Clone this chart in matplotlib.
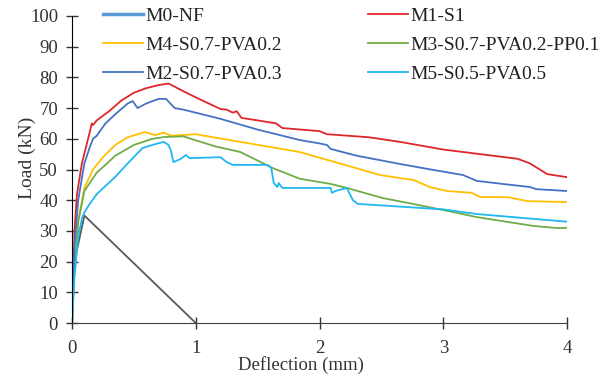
import matplotlib
matplotlib.use("Agg")
import matplotlib.pyplot as plt
from matplotlib.lines import Line2D

plt.rcParams['font.family'] = ['Liberation Serif', 'DejaVu Serif']

# Load-deflection curves (deflection in mm, load in kN)
m0_x = [0.0, 0.02, 0.1, 1.0]
m0_y = [0.0, 20.0, 35.0, 0.0]

m1_x = [0.0, 0.01, 0.02, 0.04, 0.08, 0.13, 0.16, 0.17, 0.2, 0.3, 0.4, 0.5, 0.6, 0.7, 0.78,
        0.9, 1.0, 1.2, 1.25, 1.3, 1.33, 1.37, 1.5, 1.65, 1.7, 2.0, 2.06, 2.4, 2.65, 3.0,
        3.2, 3.6, 3.7, 3.84, 4.0]
m1_y = [0.0, 15.0, 30.0, 42.0, 52.0, 60.0, 65.0, 64.5, 66.0, 69.0, 72.5, 75.0, 76.5, 77.5, 78.0,
        75.5, 73.5, 69.7, 69.5, 68.5, 69.0, 66.8, 66.0, 65.0, 63.5, 62.5, 61.5, 60.5, 59.0, 56.5,
        55.5, 53.5, 52.0, 48.5, 47.5]

m4_x = [0.0, 0.02, 0.05, 0.1, 0.17, 0.25, 0.35, 0.45, 0.59, 0.67, 0.74, 0.8, 1.0, 1.07,
        1.84, 2.49, 2.65, 2.76, 2.89, 3.03, 3.23, 3.3, 3.52, 3.68, 4.0]
m4_y = [0.0, 18.0, 33.0, 44.0, 50.0, 54.0, 58.0, 60.5, 62.2, 61.2, 62.0, 61.0, 61.5, 61.0,
        55.7, 48.2, 47.2, 46.6, 44.3, 43.0, 42.4, 41.0, 41.0, 39.7, 39.4]

m3_x = [0.0, 0.02, 0.05, 0.1, 0.2, 0.27, 0.35, 0.5, 0.65, 0.75, 0.9, 1.0, 1.16, 1.36,
        1.62, 1.84, 2.09, 2.22, 2.51, 2.73, 3.0, 3.27, 3.73, 3.93, 4.0]
m3_y = [0.0, 17.0, 33.0, 43.0, 49.0, 51.5, 54.5, 58.0, 60.0, 60.6, 60.8, 59.5, 57.5, 55.7,
        50.5, 47.0, 45.3, 44.0, 40.7, 39.0, 36.8, 34.5, 31.6, 30.9, 31.0]

m2_x = [0.0, 0.02, 0.05, 0.1, 0.15, 0.17, 0.2, 0.27, 0.35, 0.45, 0.49, 0.53, 0.6, 0.7, 0.76,
        0.83, 0.9, 1.0, 1.2, 1.5, 1.84, 2.0, 2.06, 2.09, 2.3, 2.65, 2.9, 3.16, 3.27, 3.5,
        3.7, 3.75, 4.0]
m2_y = [0.0, 25.0, 40.0, 52.0, 58.0, 60.0, 61.0, 65.0, 68.0, 71.5, 72.3, 70.0, 71.5, 73.0, 73.0,
        70.0, 69.5, 68.5, 66.5, 63.0, 59.6, 58.5, 58.0, 56.7, 54.5, 51.8, 50.0, 48.2, 46.3, 45.2,
        44.3, 43.6, 43.0]

m5_x = [0.0, 0.02, 0.05, 0.08, 0.1, 0.13, 0.2, 0.35, 0.45, 0.57, 0.65, 0.74, 0.78, 0.8,
        0.82, 0.88, 0.92, 0.95, 1.2, 1.25, 1.3, 1.58, 1.61, 1.63, 1.66, 1.67, 1.7, 2.09,
        2.1, 2.13, 2.22, 2.27, 2.31, 3.0, 3.27, 4.0]
m5_y = [0.0, 15.0, 28.0, 34.0, 36.0, 38.0, 42.0, 47.6, 52.0, 57.0, 58.0, 59.0, 58.0, 56.0,
        52.4, 53.5, 54.7, 53.7, 54.0, 52.4, 51.5, 51.5, 50.5, 45.6, 44.3, 45.6, 44.0, 44.0,
        42.4, 43.0, 44.0, 40.0, 38.8, 37.0, 35.5, 33.0]

labels = ["M0-NF", "M1-S1", "M4-S0.7-PVA0.2", "M3-S0.7-PVA0.2-PP0.1",
          "M2-S0.7-PVA0.3", "M5-S0.5-PVA0.5"]
colors = ["#5B9BD5", "#E0262B", "#FFC000", "#70AD47", "#4472C4", "#1FB8F0"]

x_ticks = [0, 1, 2, 3, 4]
y_ticks = list(range(0, 101, 10))

fig = plt.figure(figsize=(6.11, 3.76), dpi=100)
ax = fig.add_axes([72 / 611, 1 - 323 / 376, 495 / 611, 307 / 376])

ax.plot(m0_x, m0_y, color="#595959", lw=1.3)
ax.plot(m1_x, m1_y, color=colors[1], lw=1.3)
ax.plot(m4_x, m4_y, color=colors[2], lw=1.3)
ax.plot(m3_x, m3_y, color=colors[3], lw=1.3)
ax.plot(m2_x, m2_y, color=colors[4], lw=1.3)
ax.plot(m5_x, m5_y, color=colors[5], lw=1.3)

ax.set_xlim(0, 4)
ax.set_ylim(0, 100)
ax.set_xticks(x_ticks)
ax.set_yticks(y_ticks)
for s in ("top", "right"):
    ax.spines[s].set_visible(False)
ax.spines["left"].set_color("black")
ax.spines["bottom"].set_color("#404040")
ax.tick_params(direction="inout", length=8, width=1, labelsize=13.5, colors="#333333")
ax.tick_params(axis="x", pad=8)
ax.tick_params(axis="y", pad=6)
ax.set_xlabel("Deflection (mm)", fontsize=13.5, color="#333333")
ax.set_ylabel("Load (kN)", fontsize=14, color="#333333")
ax.xaxis.set_label_coords(0.462, -0.108)
ax.yaxis.set_label_coords(-0.073, 0.537)

handles = [Line2D([], [], color=c, lw=(2.5 if i == 0 else 1.3)) for i, c in enumerate(colors)]
# legend order: column-wise fill with ncol=2
order = [0, 2, 4, 1, 3, 5]
leg = ax.legend([handles[i] for i in order], [labels[i] for i in order],
                ncol=2, loc="upper left", bbox_to_anchor=(0.0626, 1.0285),
                frameon=False, fontsize=14, handlelength=2.06, handletextpad=0.1,
                columnspacing=4.45, labelspacing=0.58, borderpad=0, borderaxespad=0)
for t in leg.get_texts():
    t.set_color("#222222")

fig.savefig("out.png", dpi=100)
